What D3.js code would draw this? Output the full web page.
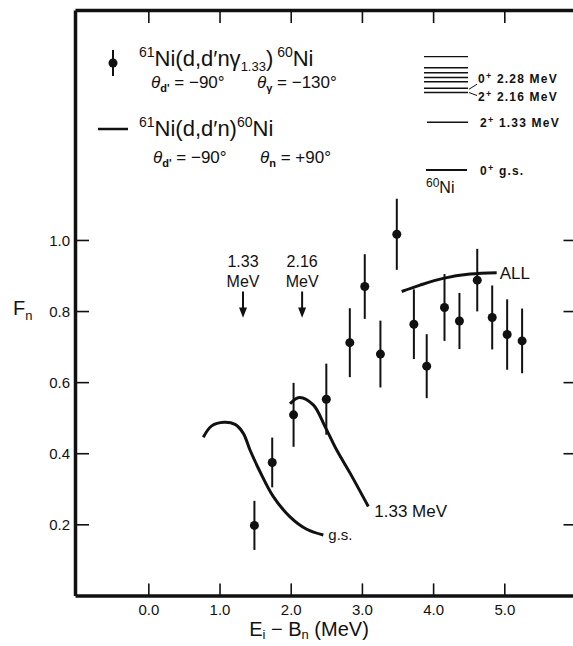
<!DOCTYPE html>
<html>
<head>
<meta charset="utf-8">
<script src="https://cdn.jsdelivr.net/npm/d3@7"></script>
<style>
body{margin:0;background:#fff;}
text{font-family:"Liberation Sans", Arial, sans-serif; fill:#111;}
</style>
</head>
<body>
<div class="canvas"></div>
<script>
// values

// measured F_n with error bars
const energy = [1.49, 1.74, 2.04, 2.50, 2.83, 3.04, 3.26, 3.49, 3.73, 3.91, 4.16, 4.37, 4.62, 4.83, 5.04, 5.25];
const fn     = [0.197, 0.374, 0.508, 0.552, 0.711, 0.869, 0.679, 1.016, 0.763, 0.645, 0.810, 0.772, 0.887, 0.782, 0.734, 0.716];
const fnErr  = [0.069, 0.070, 0.090, 0.100, 0.097, 0.091, 0.094, 0.100, 0.098, 0.090, 0.094, 0.079, 0.088, 0.090, 0.099, 0.091];

// calculated curves
const gsE = [0.772, 0.890, 1.063, 1.218, 1.334, 1.428, 1.569, 1.756, 1.990, 2.225, 2.458];
const gsF = [0.445, 0.477, 0.487, 0.481, 0.456, 0.409, 0.348, 0.278, 0.221, 0.186, 0.170];
const e133E = [1.99, 2.12, 2.317, 2.482, 2.646, 2.834, 3.09];
const e133F = [0.539, 0.557, 0.536, 0.475, 0.409, 0.344, 0.250];
const allE = [3.559, 3.816, 4.143, 4.518, 4.893];
const allF = [0.855, 0.873, 0.892, 0.904, 0.908];

const thresholds = [1.33, 2.16];
const thresholdLabels = ['1.33', '2.16'];

const xTicks = [0, 1, 2, 3, 4, 5];
const yTicks = [0.2, 0.4, 0.6, 0.8, 1.0];

// 60Ni level scheme (MeV)
const levels = [0, 1.33, 2.16, 2.28, 2.46, 2.58, 2.71, 2.85, 3.16];

// dimensions
const margin = {top: 10, left: 75};
const graphWidth = 500.5;
const graphHeight = 585.4;

const svg = d3.select('.canvas')
.append('svg')
.attr('width', 573)
.attr('height', 646);

const graph = svg.append('g')
.attr('transform', `translate(${margin.left},${margin.top})`);

// scales
const x = d3.scaleLinear().domain([-1.03, 6.0]).range([0, graphWidth]);
const y = d3.scaleLinear().domain([0, 1.647]).range([graphHeight, 0]);

// axes (frame)
const xAxis = d3.axisBottom(x).tickValues(xTicks).tickSize(-12).tickSizeOuter(0).tickPadding(9).tickFormat(d3.format('.1f'));
const yAxis = d3.axisLeft(y).tickValues(yTicks).tickSize(-14).tickSizeOuter(0).tickPadding(5).tickFormat(d3.format('.1f'));
const topAxis = d3.axisTop(x).tickValues(xTicks).tickSize(-13).tickSizeOuter(0).tickFormat('');
const rightAxis = d3.axisRight(y).tickValues(yTicks).tickSize(-12).tickSizeOuter(0).tickFormat('');

const xAxisGroup = graph.append('g').attr('transform', `translate(0,${graphHeight})`).call(xAxis);
const yAxisGroup = graph.append('g').call(yAxis);
graph.append('g').call(topAxis);
graph.append('g').attr('transform', `translate(${graphWidth},0)`).call(rightAxis);

graph.selectAll('.domain').attr('stroke', '#111').attr('stroke-width', 3.5);
graph.selectAll('.tick line').attr('stroke', '#111').attr('stroke-width', 1.6);
xAxisGroup.selectAll('text').attr('font-size', 15).style('font-family', '"Liberation Sans", Arial, sans-serif').attr('fill', '#111');
yAxisGroup.selectAll('text').attr('font-size', 15).style('font-family', '"Liberation Sans", Arial, sans-serif').attr('fill', '#111').attr('dy', '0.35em');

// axis titles
const xTitle = svg.append('text').attr('x', 309).attr('y', 636).attr('text-anchor', 'middle').attr('font-size', 20);
xTitle.append('tspan').text('E');
xTitle.append('tspan').attr('font-size', 13).attr('dy', 3).text('i');
xTitle.append('tspan').attr('dy', -3).text(' − B');
xTitle.append('tspan').attr('font-size', 13).attr('dy', 3).text('n');
xTitle.append('tspan').attr('dy', -3).text(' (MeV)');

const yTitle = svg.append('text').attr('x', 13).attr('y', 315).attr('font-size', 20);
yTitle.append('tspan').text('F');
yTitle.append('tspan').attr('font-size', 13).attr('dy', 5).text('n');

// curves
const line = d3.line()
.x(d => x(d[0]))
.y(d => y(d[1]))
.curve(d3.curveCatmullRom);

const curves = [
  {e: gsE, f: gsF, label: 'g.s.', size: 15, dx: 5, dy: 5},
  {e: e133E, f: e133F, label: '1.33 MeV', size: 17, dx: 6, dy: 10},
  {e: allE, f: allF, label: 'ALL', size: 17, dx: 3, dy: 6}
];

curves.forEach(c => {
  const pts = c.e.map((e, i) => [e, c.f[i]]);
  graph.append('path')
  .datum(pts)
  .attr('fill', 'none')
  .attr('stroke', '#111')
  .attr('stroke-width', 3)
  .attr('d', line);
  const last = pts[pts.length - 1];
  graph.append('text')
  .attr('x', x(last[0]) + c.dx)
  .attr('y', y(last[1]) + c.dy)
  .attr('font-size', c.size)
  .text(c.label);
});

// error bars and points
const pts = energy.map((e, i) => ({e: e, f: fn[i], err: fnErr[i]}));

graph.selectAll('line.err')
.data(pts)
.enter()
.append('line')
.attr('class', 'err')
.attr('x1', d => x(d.e))
.attr('x2', d => x(d.e))
.attr('y1', d => y(d.f - d.err))
.attr('y2', d => y(d.f + d.err))
.attr('stroke', '#111')
.attr('stroke-width', 2);

graph.selectAll('circle.pt')
.data(pts)
.enter()
.append('circle')
.attr('class', 'pt')
.attr('cx', d => x(d.e))
.attr('cy', d => y(d.f))
.attr('r', 4.5)
.attr('fill', '#111');

// threshold arrows
thresholds.forEach((t, i) => {
  const ax = x(t);
  graph.append('text').attr('x', ax).attr('y', y(0.923)).attr('text-anchor', 'middle').attr('font-size', 16).text(thresholdLabels[i]);
  graph.append('text').attr('x', ax).attr('y', y(0.867)).attr('text-anchor', 'middle').attr('font-size', 16).text('MeV');
  graph.append('line')
  .attr('x1', ax).attr('x2', ax)
  .attr('y1', y(0.855)).attr('y2', y(0.80))
  .attr('stroke', '#111').attr('stroke-width', 2);
  graph.append('path')
  .attr('d', `M${ax - 4},${y(0.81)} L${ax + 4},${y(0.81)} L${ax},${y(0.781)} Z`)
  .attr('fill', '#111');
});

// legend
const leg = svg.append('g');
leg.append('line').attr('x1', 113).attr('x2', 113).attr('y1', 50).attr('y2', 76).attr('stroke', '#111').attr('stroke-width', 2);
leg.append('circle').attr('cx', 113).attr('cy', 63).attr('r', 4.5).attr('fill', '#111');

const l1 = leg.append('text').attr('x', 139).attr('y', 66).attr('font-size', 22);
l1.append('tspan').attr('font-size', 14).attr('dy', -9).text('61');
l1.append('tspan').attr('dy', 9).text('Ni(d,d′nγ');
l1.append('tspan').attr('font-size', 13).attr('dy', 5).text('1.33');
l1.append('tspan').attr('dy', -5).text(')');
l1.append('tspan').attr('font-size', 14).attr('dy', -9).text(' 60');
l1.append('tspan').attr('dy', 9).text('Ni');

function angle(px, py, sub, rest) {
  const t = leg.append('text').attr('x', px).attr('y', py).attr('font-size', 17);
  t.append('tspan').attr('font-style', 'italic').text('θ');
  t.append('tspan').attr('font-size', 11).attr('font-weight', 'bold').attr('dy', 4).text(sub);
  t.append('tspan').attr('dy', -4).text(rest);
}
angle(151, 88, "d'", ' = −90°');
angle(257, 88, 'γ', ' = −130°');

leg.append('line').attr('x1', 98).attr('x2', 128).attr('y1', 129).attr('y2', 129).attr('stroke', '#111').attr('stroke-width', 2.5);
const l2 = leg.append('text').attr('x', 139).attr('y', 136).attr('font-size', 22);
l2.append('tspan').attr('font-size', 14).attr('dy', -9).text('61');
l2.append('tspan').attr('dy', 9).text('Ni(d,d′n)');
l2.append('tspan').attr('font-size', 14).attr('dy', -9).text('60');
l2.append('tspan').attr('dy', 9).text('Ni');

angle(153, 163, "d'", ' = −90°');
angle(260, 163, 'n', ' = +90°');

// level scheme
const lv = d3.scaleLinear().domain([0, 1.33]).range([170, 122.3]);
const scheme = svg.append('g');
scheme.selectAll('line.lvl')
.data(levels)
.enter()
.append('line')
.attr('class', 'lvl')
.attr('x1', d => d === 0 ? 426 : (d < 2 ? 427 : 424))
.attr('x2', d => d === 0 ? 467 : 468)
.attr('y1', d => lv(d))
.attr('y2', d => lv(d))
.attr('stroke', '#111')
.attr('stroke-width', d => d === 0 ? 2.2 : 1.4);

const lvlLabel = (px, py, spin, txt) => {
  const t = scheme.append('text').attr('x', px).attr('y', py).attr('font-size', 12).attr('font-weight', 'bold').attr('letter-spacing', 1.2);
  t.append('tspan').text(spin);
  t.append('tspan').attr('font-size', 9).attr('dy', -4).text('+');
  t.append('tspan').attr('dy', 4).text(' ' + txt);
};
lvlLabel(478, lv(2.28) - 5, '0', '2.28 MeV');
lvlLabel(478, lv(2.16) + 8, '2', '2.16 MeV');
lvlLabel(480, lv(1.33) + 4.5, '2', '1.33 MeV');
lvlLabel(480, lv(0) + 4.5, '0', 'g.s.');
scheme.append('line').attr('x1', 469).attr('y1', lv(2.28) + 1).attr('x2', 477).attr('y2', lv(2.28) - 4).attr('stroke', '#111').attr('stroke-width', 1);
scheme.append('line').attr('x1', 469).attr('y1', lv(2.16)).attr('x2', 477).attr('y2', lv(2.16) + 3).attr('stroke', '#111').attr('stroke-width', 1);

const nuc = scheme.append('text').attr('x', 426).attr('y', 193).attr('font-size', 16);
nuc.append('tspan').attr('font-size', 12).attr('dy', -6).text('60');
nuc.append('tspan').attr('dy', 6).text('Ni');
</script>
</body>
</html>
